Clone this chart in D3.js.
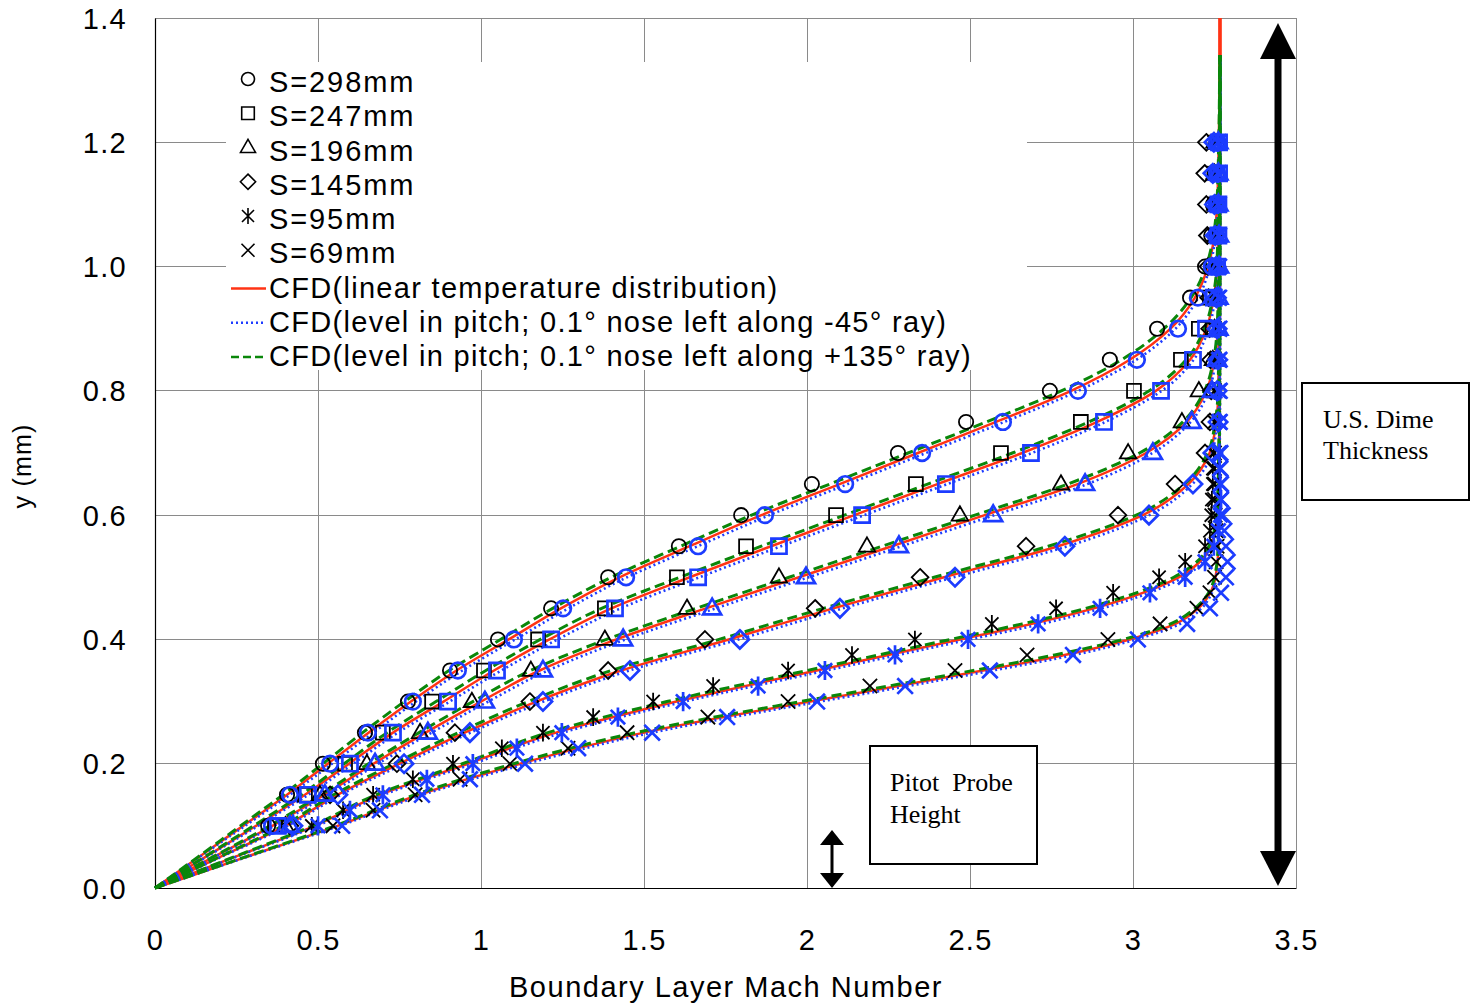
<!DOCTYPE html>
<html><head><meta charset="utf-8">
<script src="https://cdn.jsdelivr.net/npm/d3@7"></script>
<style>body{margin:0;background:#fff} svg{display:block}</style>
</head><body>
<svg id="chart" width="1472" height="1006"></svg>
<script>
// ---------------- DATA ----------------
const xTicks = [0, 0.5, 1, 1.5, 2, 2.5, 3, 3.5];
const xTickLabels = ["0", "0.5", "1", "1.5", "2", "2.5", "3", "3.5"];
const yTicks = [0, 0.2, 0.4, 0.6, 0.8, 1.0, 1.2, 1.4];
const yTickLabels = ["0.0", "0.2", "0.4", "0.6", "0.8", "1.0", "1.2", "1.4"];

const seriesLabels = ["S=298mm", "S=247mm", "S=196mm", "S=145mm", "S=95mm", "S=69mm"];
const cfdLabels = ["CFD(linear temperature distribution)",
  "CFD(level in pitch; 0.1° nose left along -45° ray)",
  "CFD(level in pitch; 0.1° nose left along +135° ray)"];

// measurement heights (mm)
const yStep05 = [0.1,0.15,0.2,0.25,0.3,0.35,0.4,0.45,0.5,0.55,0.6,0.65,0.7,0.75,0.8,0.85,0.9,0.95,1.0,1.05,1.1,1.15,1.2];
const yStep025 = [0.1,0.125,0.15,0.175,0.2,0.225,0.25,0.275,0.3,0.325,0.35,0.375,0.4,0.425,0.45,0.475,0.5,0.525,0.55,0.575,0.6,0.625,0.65,0.675,0.7,0.75,0.8,0.85,0.9,0.95,1.0,1.05,1.1,1.15,1.2];

// black markers (Mach number at each height)
const machS298 = [0.347,0.405,0.515,0.644,0.776,0.905,1.052,1.215,1.39,1.607,1.798,2.015,2.279,2.488,2.745,2.929,3.074,3.175,3.221,3.24,3.245,3.25,3.262];
const machS247 = [0.368,0.46,0.583,0.699,0.85,1.009,1.175,1.38,1.601,1.813,2.089,2.334,2.595,2.84,3.003,3.147,3.202,3.236,3.245,3.255,3.255,3.258,3.258];
const machS196 = [0.4,0.506,0.65,0.813,0.972,1.153,1.38,1.632,1.914,2.184,2.469,2.779,2.985,3.15,3.202,3.245,3.25,3.252,3.255,3.255,3.252,3.25,3.25];
const machS145 = [0.414,0.537,0.742,0.92,1.15,1.39,1.687,2.025,2.347,2.672,2.954,3.129,3.221,3.236,3.24,3.238,3.235,3.232,3.23,3.228,3.225,3.22,3.225];
const machS95  = [0.481,0.577,0.669,0.791,0.914,1.064,1.19,1.344,1.528,1.712,1.942,2.138,2.331,2.567,2.764,2.939,3.08,3.16,3.221,3.236,3.24,3.242,3.245,3.245,3.248,3.25,3.25,3.252,3.252,3.25,3.25,3.252,3.25,3.25,3.25];
const machS69  = [0.546,0.669,0.798,0.936,1.089,1.267,1.448,1.696,1.942,2.193,2.454,2.675,2.923,3.083,3.196,3.236,3.25,3.255,3.258,3.255,3.252,3.25,3.25,3.25,3.25,3.25,3.25,3.25,3.25,3.25,3.25,3.25,3.25,3.25,3.25];

// blue markers
const machAltS298 = [0.359,0.414,0.537,0.653,0.791,0.929,1.101,1.252,1.445,1.666,1.871,2.117,2.353,2.601,2.831,3.012,3.138,3.199,3.242,3.255,3.257,3.258,3.258];
const machAltS247 = [0.377,0.469,0.598,0.73,0.899,1.049,1.215,1.411,1.666,1.914,2.169,2.426,2.687,2.911,3.086,3.184,3.224,3.248,3.258,3.262,3.262,3.264,3.264];
const machAltS196 = [0.414,0.521,0.675,0.837,1.012,1.19,1.436,1.709,1.997,2.282,2.571,2.853,3.061,3.18,3.242,3.258,3.262,3.262,3.264,3.264,3.262,3.262,3.262];
const machAltS145 = [0.423,0.561,0.764,0.966,1.19,1.457,1.794,2.101,2.454,2.791,3.049,3.184,3.245,3.261,3.258,3.26,3.258,3.256,3.255,3.252,3.25,3.245,3.248];
const machAltS95  = [0.5,0.598,0.699,0.834,0.975,1.11,1.248,1.42,1.62,1.85,2.055,2.27,2.494,2.709,2.899,3.052,3.16,3.221,3.248,3.262,3.268,3.27,3.268,3.266,3.265,3.265,3.264,3.264,3.263,3.262,3.262,3.262,3.26,3.26,3.26];
const machAltS69  = [0.574,0.69,0.819,0.966,1.135,1.298,1.525,1.755,2.031,2.301,2.561,2.816,3.015,3.166,3.236,3.27,3.285,3.29,3.285,3.28,3.275,3.27,3.27,3.268,3.268,3.266,3.266,3.265,3.265,3.264,3.264,3.264,3.263,3.263,3.263];

// CFD profiles: heights and Mach numbers for each station
const cfdHeights = [
  [0,.05,.1,.15,.2,.25,.3,.35,.4,.45,.5,.55,.6,.65,.7,.75,.8,.85,.9,.95,1.0,1.05,1.1,1.2,1.34],
  [0,.05,.1,.15,.2,.25,.3,.35,.4,.45,.5,.55,.6,.65,.7,.75,.8,.85,.9,.95,1.0,1.1,1.2,1.34],
  [0,.05,.1,.15,.2,.25,.3,.35,.4,.45,.5,.55,.6,.65,.7,.75,.8,.85,.9,1.0,1.2,1.34],
  [0,.05,.1,.15,.2,.25,.3,.35,.4,.45,.5,.55,.6,.65,.7,.75,.8,1.0,1.34],
  [0,.05,.1,.15,.2,.25,.3,.35,.4,.425,.45,.475,.5,.525,.55,.6,.7,1.0,1.34],
  [0,.05,.1,.15,.2,.25,.3,.325,.35,.375,.4,.425,.45,.475,.5,.55,.7,1.0,1.34]
];
const cfdLinear = [
  [0,.135,.27,.405,.53,.655,.785,.925,1.085,1.245,1.425,1.64,1.86,2.10,2.34,2.58,2.81,2.99,3.115,3.19,3.23,3.25,3.258,3.263,3.266],
  [0,.155,.31,.46,.595,.73,.885,1.04,1.21,1.40,1.64,1.89,2.145,2.40,2.66,2.89,3.07,3.175,3.225,3.248,3.258,3.263,3.265,3.267],
  [0,.18,.36,.52,.67,.83,1.0,1.18,1.415,1.69,1.975,2.26,2.545,2.83,3.04,3.165,3.225,3.25,3.26,3.264,3.266,3.267],
  [0,.2,.4,.56,.75,.95,1.17,1.43,1.76,2.08,2.42,2.77,3.03,3.17,3.235,3.255,3.262,3.265,3.267],
  [0,.245,.49,.69,.96,1.23,1.6,2.03,2.47,2.69,2.88,3.03,3.14,3.205,3.238,3.258,3.264,3.266,3.267],
  [0,.28,.56,.81,1.12,1.5,2.01,2.28,2.54,2.79,2.99,3.13,3.2,3.237,3.253,3.262,3.266,3.267,3.267]
];
const cfdLinearTopHeight = 1.4;
const cfdMinus45 = [
  [0,.137,.276,.414,.543,.67,.80,.943,1.105,1.268,1.448,1.665,1.885,2.125,2.365,2.605,2.832,3.01,3.13,3.2,3.236,3.253,3.26,3.264,3.267],
  [0,.158,.316,.47,.608,.745,.904,1.062,1.235,1.428,1.67,1.92,2.175,2.43,2.69,2.915,3.088,3.186,3.232,3.252,3.261,3.265,3.267,3.268],
  [0,.183,.366,.53,.684,.848,1.022,1.205,1.443,1.72,2.005,2.29,2.575,2.86,3.06,3.177,3.232,3.254,3.262,3.265,3.267,3.268],
  [0,.203,.407,.57,.764,.968,1.192,1.455,1.79,2.11,2.45,2.80,3.05,3.182,3.242,3.258,3.264,3.266,3.268],
  [0,.248,.497,.702,.976,1.25,1.625,2.06,2.50,2.72,2.905,3.05,3.155,3.214,3.244,3.26,3.265,3.267,3.268],
  [0,.283,.567,.822,1.14,1.525,2.04,2.31,2.57,2.82,3.01,3.145,3.21,3.242,3.256,3.263,3.266,3.268,3.268]
];
const cfdPlus135 = [
  [0,.132,.262,.393,.515,.637,.765,.902,1.06,1.22,1.40,1.612,1.83,2.07,2.31,2.55,2.78,2.965,3.095,3.178,3.224,3.247,3.257,3.263,3.266],
  [0,.152,.302,.448,.58,.712,.862,1.015,1.182,1.37,1.61,1.86,2.115,2.37,2.63,2.865,3.05,3.163,3.219,3.245,3.257,3.262,3.265,3.267],
  [0,.177,.352,.508,.655,.81,.975,1.152,1.385,1.66,1.945,2.23,2.515,2.80,3.02,3.153,3.219,3.247,3.258,3.263,3.266,3.267],
  [0,.197,.392,.548,.733,.93,1.145,1.40,1.73,2.05,2.39,2.74,3.01,3.158,3.229,3.252,3.261,3.265,3.267],
  [0,.242,.482,.678,.943,1.205,1.57,2.0,2.44,2.66,2.855,3.01,3.125,3.196,3.233,3.256,3.263,3.266,3.267],
  [0,.277,.552,.798,1.10,1.475,1.98,2.25,2.51,2.76,2.97,3.115,3.19,3.232,3.25,3.261,3.265,3.267,3.267]
];

// ---------------- CHART ----------------
const svg = d3.select("#chart");
const x = d3.scaleLinear().domain([0, 3.5]).range([155, 1296]);
const y = d3.scaleLinear().domain([0, 1.4]).range([888, 18]);

const SANS = "'Liberation Sans', Arial, Helvetica, sans-serif";
const SERIF = "'Liberation Serif', 'Times New Roman', serif";
const RED = "#ff3314", BLUE = "#1f3dff", GREEN = "#0a870a", MBLUE = "#1c3cff";

// grid
const grid = svg.append("g").attr("stroke", "#8a8a8a").attr("stroke-width", 1).attr("shape-rendering", "crispEdges");
grid.selectAll("line.v").data(xTicks.slice(1)).join("line")
  .attr("x1", d => x(d)).attr("x2", d => x(d)).attr("y1", y(0)).attr("y2", y(1.4));
grid.selectAll("line.h").data(yTicks.slice(1)).join("line")
  .attr("x1", x(0)).attr("x2", x(3.5)).attr("y1", d => y(d)).attr("y2", d => y(d));

// legend background covers grid
svg.append("rect").attr("x", 226).attr("y", 62).attr("width", 801).attr("height", 308).attr("fill", "#fff");

// axes
const xAxis = d3.axisBottom(x).tickValues(xTicks).tickFormat((d, i) => xTickLabels[i]).tickSize(0).tickPadding(52);
const yAxis = d3.axisLeft(y).tickValues(yTicks).tickFormat((d, i) => yTickLabels[i]).tickSize(0).tickPadding(28);
const gx = svg.append("g").attr("transform", `translate(0,${y(0)})`).call(xAxis);
const gy = svg.append("g").attr("transform", `translate(${x(0)},0)`).call(yAxis);
[gx, gy].forEach(g => {
  g.select(".domain").attr("stroke", "#000").attr("stroke-width", 1.2);
  g.selectAll("text").attr("font-family", SANS).attr("font-size", 29).attr("letter-spacing", 1.3).attr("fill", "#000");
});
gx.selectAll("text").attr("dy", null).attr("dominant-baseline", "central");
gy.selectAll("text").attr("dy", null).attr("dominant-baseline", "central");

svg.append("text").attr("x", 726).attr("y", 997).attr("text-anchor", "middle")
  .attr("font-family", SANS).attr("font-size", 29).attr("letter-spacing", 1.5).text("Boundary Layer Mach Number");
svg.append("text").attr("transform", "translate(22,466) rotate(-90)").attr("text-anchor", "middle")
  .attr("dominant-baseline", "central").attr("font-family", SANS).attr("font-size", 25).attr("letter-spacing", 1.2)
  .text("y (mm)");

// CFD curves
const line = d3.line().x(d => x(d[0])).y(d => y(d[1])).curve(d3.curveMonotoneY);
function profile(machs, heights) { return machs.map((m, i) => [m, heights[i]]); }
const gCurves = svg.append("g").attr("fill", "none");
cfdLinear.forEach((m, i) => {
  const pts = profile(m, cfdHeights[i]);
  pts.push([m[m.length - 1], cfdLinearTopHeight]);
  gCurves.append("path").attr("d", line(pts)).attr("stroke", RED).attr("stroke-width", 2.5);
});
cfdMinus45.forEach((m, i) => {
  gCurves.append("path").attr("d", line(profile(m, cfdHeights[i]))).attr("stroke", BLUE)
    .attr("stroke-width", 2.6).attr("stroke-dasharray", "2,3");
});
cfdPlus135.forEach((m, i) => {
  gCurves.append("path").attr("d", line(profile(m, cfdHeights[i]))).attr("stroke", GREEN)
    .attr("stroke-width", 3).attr("stroke-dasharray", "10,5");
});

// markers
const shapes = ["circle", "square", "triangle", "diamond", "asterisk", "x"];
function markerPath(shape, k) {
  const r = 6.5 * k;
  switch (shape) {
    case "circle": return `M${r},0A${r},${r} 0 1,1 ${-r},0A${r},${r} 0 1,1 ${r},0Z`;
    case "square": { const s = 6.3 * k; return `M${-s},${-s}H${s}V${s}H${-s}Z`; }
    case "triangle": { const w = 7.5 * k, h = 13 * k; return `M0,${-h * 0.62}L${w},${h * 0.38}L${-w},${h * 0.38}Z`; }
    case "diamond": { const s = 7.6 * k; return `M0,${-s}L${s},0L0,${s}L${-s},0Z`; }
    case "x": { const s = 6.5 * k; return `M${-s},${-s}L${s},${s}M${-s},${s}L${s},${-s}`; }
    case "asterisk": { const s = 6 * k, v = 8 * k; return `M${-s},${-s}L${s},${s}M${-s},${s}L${s},${-s}M0,${-v}L0,${v}`; }
  }
}
const measured = [machS298, machS247, machS196, machS145, machS95, machS69];
const measuredAlt = [machAltS298, machAltS247, machAltS196, machAltS145, machAltS95, machAltS69];
const heightsFor = [yStep05, yStep05, yStep05, yStep05, yStep025, yStep025];

const gBlack = svg.append("g").attr("fill", "none").attr("stroke", "#000").attr("stroke-width", 1.8);
measured.forEach((arr, i) => {
  gBlack.selectAll(null).data(arr.map((m, j) => [m, heightsFor[i][j]])).join("path")
    .attr("transform", d => `translate(${x(d[0])},${y(d[1])})`).attr("d", markerPath(shapes[i], 1.1));
});
const gBlue = svg.append("g").attr("fill", "none").attr("stroke", MBLUE).attr("stroke-width", 2.7);
measuredAlt.forEach((arr, i) => {
  gBlue.selectAll(null).data(arr.map((m, j) => [m, heightsFor[i][j]])).join("path")
    .attr("transform", d => `translate(${x(d[0])},${y(d[1])})`).attr("d", markerPath(shapes[i], 1.2));
});

// legend
const lg = svg.append("g");
const rowY = i => 92 + i * 34.25;
seriesLabels.forEach((t, i) => {
  lg.append("path").attr("transform", `translate(248,${rowY(i) - 13})`).attr("d", markerPath(shapes[i], 1.0))
    .attr("fill", "none").attr("stroke", "#000").attr("stroke-width", 1.6);
});
const lineStyles = [[RED, 2.5, null], [BLUE, 2.5, "2,3"], [GREEN, 2.5, "8,4"]];
cfdLabels.forEach((t, i) => {
  const yy = rowY(6 + i) - 9;
  lg.append("line").attr("x1", 231).attr("x2", 266).attr("y1", yy).attr("y2", yy)
    .attr("stroke", lineStyles[i][0]).attr("stroke-width", lineStyles[i][1]).attr("stroke-dasharray", lineStyles[i][2]);
});
seriesLabels.concat(cfdLabels).forEach((t, i) => {
  lg.append("text").attr("x", 269).attr("y", rowY(i)).attr("font-family", SANS).attr("font-size", 29)
    .attr("letter-spacing", i < 6 ? 1.9 : 1.3).text(t);
});

// big double arrow (dime thickness)
const ax = 1278;
svg.append("rect").attr("x", ax - 3.5).attr("y", 56).attr("width", 7).attr("height", 798).attr("fill", "#000");
svg.append("path").attr("d", `M${ax},23L${ax + 18},59L${ax - 18},59Z`).attr("fill", "#000");
svg.append("path").attr("d", `M${ax},886L${ax + 18},851L${ax - 18},851Z`).attr("fill", "#000");

// small double arrow (probe height)
const sx = 832;
svg.append("rect").attr("x", sx - 1.5).attr("y", 840).attr("width", 3).attr("height", 38).attr("fill", "#000");
svg.append("path").attr("d", `M${sx},830L${sx + 12},845L${sx - 12},845Z`).attr("fill", "#000");
svg.append("path").attr("d", `M${sx},888L${sx + 12},873L${sx - 12},873Z`).attr("fill", "#000");

// annotation boxes
function box(x0, y0, w, h, lines) {
  svg.append("rect").attr("x", x0).attr("y", y0).attr("width", w).attr("height", h)
    .attr("fill", "#fff").attr("stroke", "#000").attr("stroke-width", 2);
  lines.forEach(l => svg.append("text").attr("x", l[0]).attr("y", l[1]).attr("font-family", SERIF)
    .attr("font-size", 26).attr("style", "white-space:pre").text(l[2]));
}
box(1302, 383, 167, 117, [[1323, 428, "U.S. Dime"], [1323, 459, "Thickness"]]);
box(870, 746, 167, 118, [[890, 791, "Pitot  Probe"], [890, 823, "Height"]]);
</script>
</body></html>
